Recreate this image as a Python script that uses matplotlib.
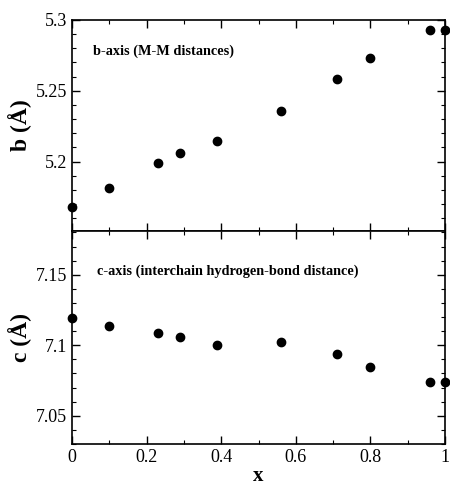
import matplotlib

matplotlib.use("Agg")
import matplotlib.pyplot as plt
from matplotlib.ticker import MultipleLocator

x = [0.0, 0.1, 0.23, 0.29, 0.39, 0.56, 0.71, 0.80, 0.96, 1.0]
b_axis = [5.1676, 5.181, 5.1993, 5.2058, 5.2143, 5.2359, 5.258, 5.273, 5.2927, 5.2927]
c_axis = [7.119, 7.1137, 7.109, 7.1055, 7.1005, 7.102, 7.0938, 7.0844, 7.0738, 7.0738]

plt.rcParams["font.family"] = ["Liberation Serif", "DejaVu Serif"]

fig = plt.figure(figsize=(4.5, 4.87), dpi=100)
ax1 = fig.add_axes([0.16, 0.5257, 0.829, 0.4333])
ax2 = fig.add_axes([0.16, 0.0883, 0.829, 0.4374], sharex=ax1)

for ax, y in ((ax1, b_axis), (ax2, c_axis)):
    ax.plot(x, y, "o", color="black", markersize=6, clip_on=False, zorder=5)
    ax.tick_params(which="both", direction="in", top=True, right=True, labelsize=13)
    ax.tick_params(which="major", length=6, width=1)
    ax.tick_params(which="minor", length=3, width=0.8)
    ax.xaxis.set_major_locator(MultipleLocator(0.2))
    ax.xaxis.set_minor_locator(MultipleLocator(0.1))
    ax.yaxis.set_major_locator(MultipleLocator(0.05))
    ax.yaxis.set_minor_locator(MultipleLocator(0.01))
    ax.yaxis.set_major_formatter(plt.FuncFormatter(lambda v, p: f"{v:g}"))
    for s in ax.spines.values():
        s.set_linewidth(1.2)

ax1.set_xlim(0, 1)
ax1.set_ylim(5.151, 5.3)
ax2.set_ylim(7.03, 7.181)
ax1.tick_params(labelbottom=False)
ax2.xaxis.set_major_formatter(plt.FuncFormatter(lambda v, p: f"{v:g}"))

ax1.set_ylabel("b (Å)", fontsize=17, fontweight="bold", labelpad=3)
ax2.set_ylabel("c (Å)", fontsize=17, fontweight="bold", labelpad=3)
ax2.set_xlabel("x", fontsize=15, fontweight="bold", labelpad=0)

ax1.text(0.055, 0.85, "b-axis (M-M distances)", transform=ax1.transAxes,
         fontsize=10.3, fontweight="bold", va="center")
ax2.text(0.068, 0.81, "c-axis (interchain hydrogen-bond distance)", transform=ax2.transAxes,
         fontsize=10.3, fontweight="bold", va="center")

fig.savefig("out.png", dpi=100)
